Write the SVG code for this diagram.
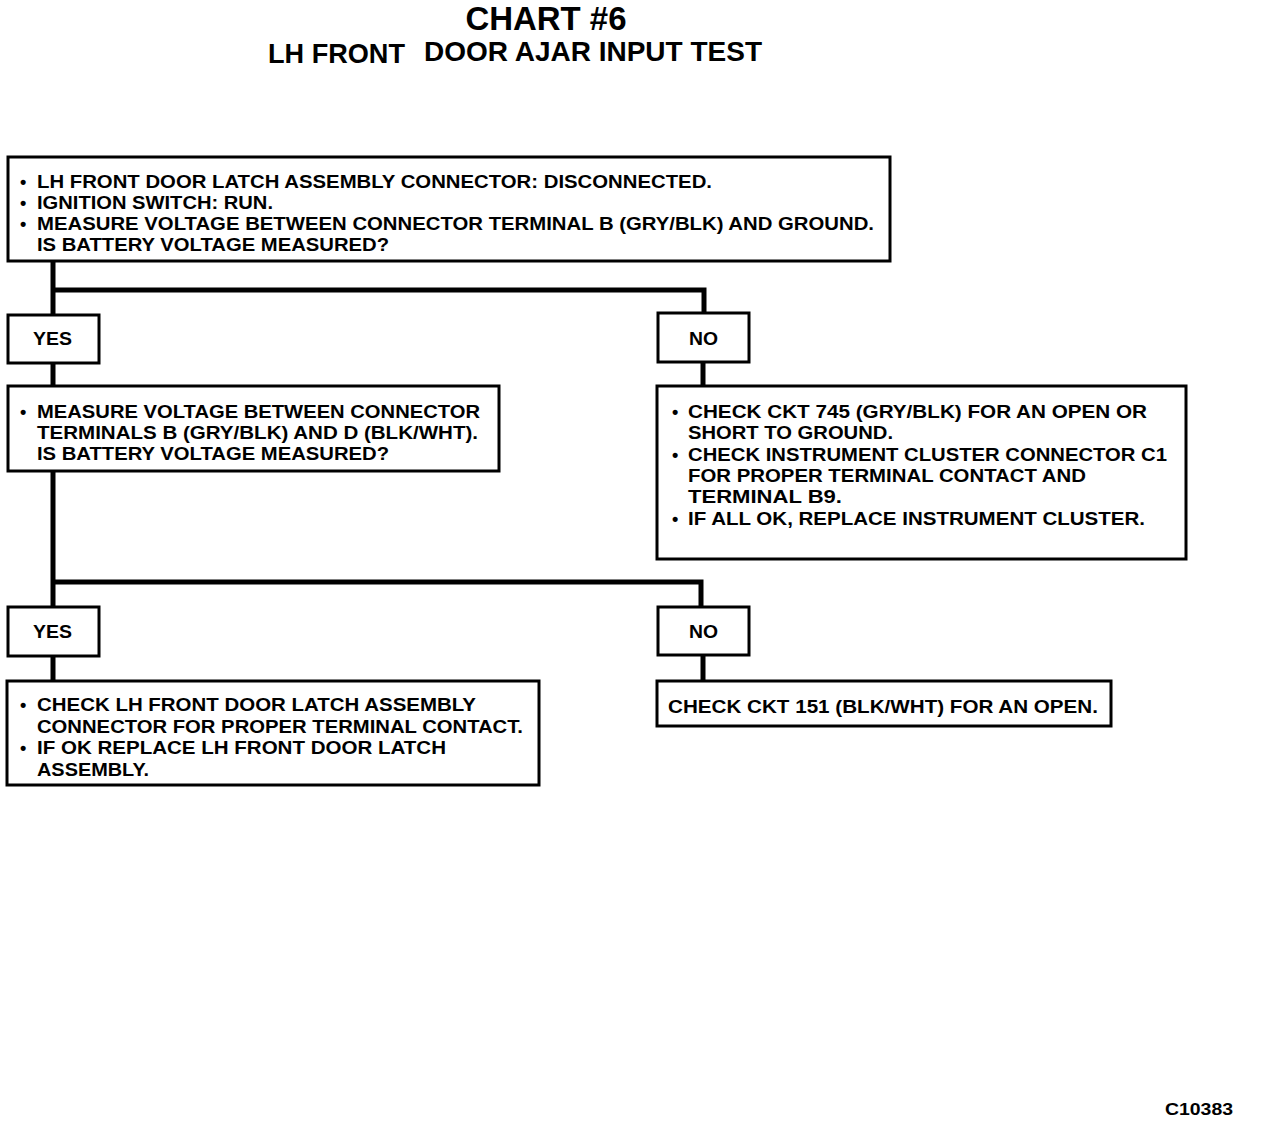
<svg xmlns="http://www.w3.org/2000/svg" width="1264" height="1122" viewBox="0 0 1264 1122">
<style>
text{font-family:"Liberation Sans",Arial,sans-serif;font-weight:bold;fill:#000}
.t{font-size:18px}
.box{fill:#fff;stroke:#000;stroke-width:3}
.ln{fill:none;stroke:#000;stroke-width:5}
</style>
<rect width="1264" height="1122" fill="#fff"/>
<g id="title">
<text x="546" y="30" font-size="34" text-anchor="middle" textLength="161" lengthAdjust="spacingAndGlyphs">CHART #6</text>
<text x="268" y="63" font-size="28" textLength="137" lengthAdjust="spacingAndGlyphs">LH FRONT</text>
<text x="424" y="61" font-size="28" textLength="338" lengthAdjust="spacingAndGlyphs">DOOR AJAR INPUT TEST</text>
</g>
<g id="connectors">
<path class="ln" d="M53 261V315M53 290H704V313M53 363V386M703 362V386M53 471V607M53 582H701V607M53 656V681M703 655V681"/>
</g>
<g id="box1">
<rect class="box" x="8" y="157" width="882" height="104"/>
<text class="t" x="20" y="188">•</text><text class="t" x="37" y="188" textLength="675" lengthAdjust="spacingAndGlyphs">LH FRONT DOOR LATCH ASSEMBLY CONNECTOR: DISCONNECTED.</text>
<text class="t" x="20" y="209">•</text><text class="t" x="37" y="209" textLength="236" lengthAdjust="spacingAndGlyphs">IGNITION SWITCH: RUN.</text>
<text class="t" x="20" y="230">•</text><text class="t" x="37" y="230" textLength="837" lengthAdjust="spacingAndGlyphs">MEASURE VOLTAGE BETWEEN CONNECTOR TERMINAL B (GRY/BLK) AND GROUND.</text>
<text class="t" x="37" y="251" textLength="352" lengthAdjust="spacingAndGlyphs">IS BATTERY VOLTAGE MEASURED?</text>
</g>
<g id="yes1">
<rect class="box" x="8" y="315" width="91" height="48"/>
<text class="t" x="33" y="345" textLength="39" lengthAdjust="spacingAndGlyphs">YES</text>
</g>
<g id="no1">
<rect class="box" x="658" y="313" width="91" height="49"/>
<text class="t" x="689" y="345" textLength="29" lengthAdjust="spacingAndGlyphs">NO</text>
</g>
<g id="box2">
<rect class="box" x="8" y="386" width="491" height="85"/>
<text class="t" x="20" y="418">•</text><text class="t" x="37" y="418" textLength="443" lengthAdjust="spacingAndGlyphs">MEASURE VOLTAGE BETWEEN CONNECTOR</text>
<text class="t" x="37" y="439" textLength="441" lengthAdjust="spacingAndGlyphs">TERMINALS B (GRY/BLK) AND D (BLK/WHT).</text>
<text class="t" x="37" y="460" textLength="352" lengthAdjust="spacingAndGlyphs">IS BATTERY VOLTAGE MEASURED?</text>
</g>
<g id="box3">
<rect class="box" x="657" y="386" width="529" height="173"/>
<text class="t" x="672" y="418">•</text><text class="t" x="688" y="418" textLength="459" lengthAdjust="spacingAndGlyphs">CHECK CKT 745 (GRY/BLK) FOR AN OPEN OR</text>
<text class="t" x="688" y="439" textLength="205" lengthAdjust="spacingAndGlyphs">SHORT TO GROUND.</text>
<text class="t" x="672" y="461">•</text><text class="t" x="688" y="461" textLength="479" lengthAdjust="spacingAndGlyphs">CHECK INSTRUMENT CLUSTER CONNECTOR C1</text>
<text class="t" x="688" y="482" textLength="398" lengthAdjust="spacingAndGlyphs">FOR PROPER TERMINAL CONTACT AND</text>
<text class="t" x="688" y="503" textLength="154" lengthAdjust="spacingAndGlyphs">TERMINAL B9.</text>
<text class="t" x="672" y="525">•</text><text class="t" x="688" y="525" textLength="457" lengthAdjust="spacingAndGlyphs">IF ALL OK, REPLACE INSTRUMENT CLUSTER.</text>
</g>
<g id="yes2">
<rect class="box" x="8" y="607" width="91" height="49"/>
<text class="t" x="33" y="638" textLength="39" lengthAdjust="spacingAndGlyphs">YES</text>
</g>
<g id="no2">
<rect class="box" x="658" y="607" width="91" height="48"/>
<text class="t" x="689" y="638" textLength="29" lengthAdjust="spacingAndGlyphs">NO</text>
</g>
<g id="box4">
<rect class="box" x="7" y="681" width="532" height="104"/>
<text class="t" x="20" y="711">•</text><text class="t" x="37" y="711" textLength="439" lengthAdjust="spacingAndGlyphs">CHECK LH FRONT DOOR LATCH ASSEMBLY</text>
<text class="t" x="37" y="733" textLength="486" lengthAdjust="spacingAndGlyphs">CONNECTOR FOR PROPER TERMINAL CONTACT.</text>
<text class="t" x="20" y="754">•</text><text class="t" x="37" y="754" textLength="409" lengthAdjust="spacingAndGlyphs">IF OK REPLACE LH FRONT DOOR LATCH</text>
<text class="t" x="37" y="776" textLength="112" lengthAdjust="spacingAndGlyphs">ASSEMBLY.</text>
</g>
<g id="box5">
<rect class="box" x="657" y="681" width="454" height="45"/>
<text class="t" x="668" y="713" textLength="430" lengthAdjust="spacingAndGlyphs">CHECK CKT 151 (BLK/WHT) FOR AN OPEN.</text>
</g>
<text x="1165" y="1115" font-size="16" textLength="68" lengthAdjust="spacingAndGlyphs">C10383</text>
</svg>
